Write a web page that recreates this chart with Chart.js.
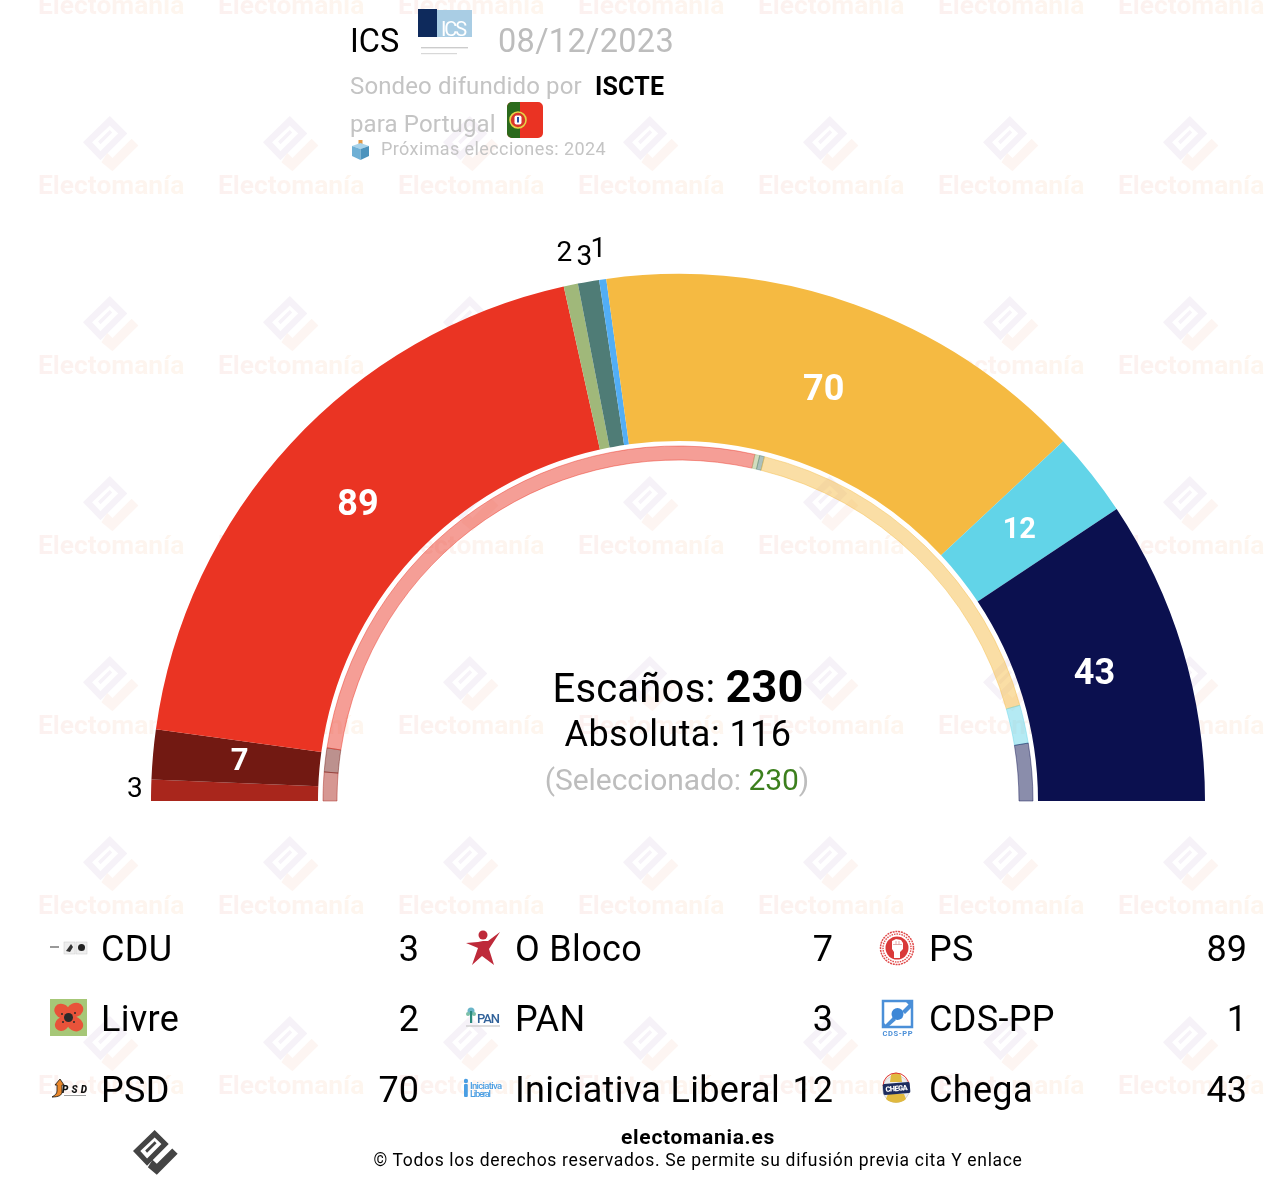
<!DOCTYPE html>
<html lang="es">
<head>
<meta charset="utf-8">
<title>ICS sondeo</title>
<script src="https://cdn.jsdelivr.net/npm/chart.js@4"></script>
<style>
html,body{margin:0;padding:0;background:#fff}
#page{position:relative;width:1280px;height:1192px;overflow:hidden;font-family:Roboto,sans-serif;color:#000}
#wm,#chartbox,#txt{position:absolute;left:0;top:0;width:1280px;height:1192px}
#wm{z-index:0}#chartbox{z-index:1}#txt{z-index:2}
.wt{position:absolute;font:700 26.4px Roboto,sans-serif;width:150px;line-height:28px;white-space:nowrap;
 background:linear-gradient(90deg,#fcf1f0,#fef6ee);-webkit-background-clip:text;background-clip:text;color:transparent}
.wi{position:absolute;width:57px;height:57px}
.t{position:absolute;white-space:nowrap;line-height:1}
.c{transform:translateX(-50%);text-align:center}
.r{transform:translateX(-100%);text-align:right}
.ic{position:absolute;width:38px;height:38px}
</style>
</head>
<body>
<div id="page">
  <div id="wm"></div>
  <div id="chartbox"><canvas id="c" width="1280" height="1192"></canvas></div>
  <div id="txt">
    <div class="t" style="left:350px;top:25px;font-size:32.5px">ICS</div>
    <svg class="ic" style="left:418px;top:9px;width:54px;height:48px" viewBox="0 0 54 48">
      <rect x="0" y="0" width="19" height="28" fill="#0e2a5c"/><rect x="19" y="1" width="35" height="27" fill="#a9cde4"/>
      <text x="36" y="27" font-family="Roboto" font-size="20" fill="#fff" text-anchor="middle" textLength="26">ICS</text>
      <rect x="3" y="38" width="47" height="1.4" fill="#ccc"/><rect x="3" y="44" width="36" height="1.2" fill="#d8d8d8"/>
    </svg>
    <div class="t" style="left:498px;top:25px;font-size:32.5px;letter-spacing:.3px;color:#bdbdbd">08/12/2023</div>
    <div class="t" style="left:350px;top:74px;font-size:24px;letter-spacing:.13px;color:#c4c4c4">Sondeo difundido por</div>
    <div class="t" style="left:595px;top:74px;font-size:25px;letter-spacing:.2px;font-weight:700">ISCTE</div>
    <div class="t" style="left:350px;top:112px;font-size:24px;letter-spacing:.13px;color:#c4c4c4">para Portugal</div>
    <svg class="ic" style="left:507px;top:102px;width:36px;height:36px" viewBox="0 0 36 36">
      <defs><clipPath id="fl"><rect width="36" height="36" rx="5"/></clipPath></defs>
      <g clip-path="url(#fl)"><rect width="36" height="36" fill="#ea3323"/><rect width="13" height="36" fill="#2b6a1c"/></g>
      <circle cx="11" cy="18" r="8" fill="#d9352a" stroke="#e6d447" stroke-width="1.6"/><rect x="7.500" y="13.500" width="7" height="9" rx="2" fill="#fff"/><rect x="10" y="15" width="2" height="5.500" fill="#2a4fa0"/>
    </svg>
    <svg class="ic" style="left:351px;top:140px;width:19px;height:20px" viewBox="0 0 19 20">
      <rect x="7.5" y="0" width="4" height="7" fill="#e39a46"/>
      <path d="M1 6 9.5 3 18 6 9.5 9Z" fill="#a8d3ea"/><path d="M1 6 9.5 9V20L1 16Z" fill="#6fb0d5"/><path d="M18 6 9.5 9V20L18 16Z" fill="#4c93bd"/>
    </svg>
    <div class="t" style="left:381px;top:140px;font-size:18px;letter-spacing:.4px;color:#c4c4c4">Próximas elecciones: 2024</div>

    <div class="t c" style="left:678px;top:664px;font-size:40px;letter-spacing:.2px">Escaños: <b style="font-size:45px">230</b></div>
    <div class="t c" style="left:678px;top:716px;font-size:36px;letter-spacing:.45px">Absoluta: 116</div>
    <div class="t c" style="left:677px;top:765px;font-size:30px;letter-spacing:-.07px;color:#bdbdbd">(Seleccionado: <span style="color:#3c7f1d">230</span>)</div>

    <div id="legend"></div>

    <svg class="ic" style="left:133px;top:1130px;width:46px;height:46px" viewBox="160 20 170 170"><use href="#logo" fill="#444" style="color:#444"/></svg>
    <div class="t c" style="left:698px;top:1127px;font-size:21px;letter-spacing:.7px;font-weight:700">electomania.es</div>
    <div class="t c" style="left:698px;top:1152px;font-size:17.5px;letter-spacing:.67px">© Todos los derechos reservados. Se permite su difusión previa cita Y enlace</div>
  </div>
  <svg width="0" height="0" style="position:absolute"><defs>
    <g id="logo">
      <path fill-rule="evenodd" d="M240 20 292 72 212 152 160 98ZM240 48 187 98 212 125 265 72Z"/>
      <path d="M205 96 240 62 247 69 212 104Z"/>
      <path style="fill:var(--chk,currentColor)" d="M215 158 232 130 248 145 305 88 325 108 248 185Z"/>
    </g>
  </defs></svg>
</div>
<script>
const partyNames   = ['CDU','O Bloco','PS','Livre','PAN','CDS-PP','PSD','Iniciativa Liberal','Chega'];
const seats        = [3,7,89,2,3,1,70,12,43];
const previousSeats= [6,5,120,1,1,0,77,8,12];
const partyColors  = ['#A9261C','#721912','#EA3423','#A0B87A','#4F7C76','#52AEF5','#F5BA42','#62D4E8','#0B104F'];
const totalSeats   = [230];

const icons = {
 'CDU':'<rect x="0" y="17" width="9" height="2" fill="#999"/><rect x="14" y="13" width="11" height="12" fill="#eee" stroke="#ccc" stroke-width=".5"/><path d="M16 22 21 15 23 18 20 23Z" fill="#333"/><rect x="26" y="13" width="11" height="12" fill="#eee" stroke="#ccc" stroke-width=".5"/><circle cx="31.500" cy="18.500" r="3.500" fill="#222"/>',
 'Livre':'<rect y="0" width="37" height="37" fill="#a6c777"/><g fill="#e8533a"><ellipse cx="12" cy="12" rx="8" ry="7" transform="rotate(35 12 12)"/><ellipse cx="25" cy="11" rx="8.500" ry="7" transform="rotate(-25 25 11)"/><ellipse cx="12" cy="25" rx="7.500" ry="6.500" transform="rotate(-40 12 25)"/><ellipse cx="25" cy="25" rx="8.500" ry="7" transform="rotate(30 25 25)"/><circle cx="18.500" cy="18.500" r="7"/></g><circle cx="18.500" cy="18.500" r="4.500" fill="#2a2a2a"/><g fill="#2a2a2a"><circle cx="12" cy="15" r="1"/><circle cx="25" cy="14" r="1"/><circle cx="13" cy="23" r="1"/><circle cx="24" cy="23" r="1"/></g>',
 'PSD':'<path d="M5 15 10 9 14 15H12V22C12 25 9 27 2 27 5 25 7 24 7 21V15Z" fill="#e8862a" stroke="#111" stroke-width=".8"/><text x="12" y="23" font-family="Roboto" font-weight="900" font-style="italic" font-size="10" fill="#111" textLength="25">PSD</text><rect x="14" y="25" width="22" height=".8" fill="#888"/>',
 'O Bloco':'<circle cx="19" cy="6" r="4.500" fill="#be2a3a"/><path d="M2 14 14 13 19 12 24 12 36 3 25 20 30 36 18 27 8 36 14 19Z" fill="#be2a3a"/>',
 'PAN':'<circle cx="7" cy="12" r="3.500" fill="#6ab5c8"/><circle cx="4" cy="15" r="2" fill="#7cc0a8"/><circle cx="10" cy="15" r="2" fill="#7cc0a8"/><rect x="6" y="12" width="2.200" height="12" fill="#2a8a7e"/><text x="13" y="24" font-family="Roboto" font-size="13" font-weight="500" fill="#30629a" textLength="23">PAN</text><rect x="2" y="26.500" width="34" height="1" fill="#bbb"/>',
 'Iniciativa Liberal':'<rect x="0" y="14" width="3.800" height="13" rx="1" fill="#4a9ee3"/><circle cx="1.900" cy="11" r="2.200" fill="#4a9ee3"/><text x="6" y="19" font-family="Roboto" font-weight="500" font-size="9.500" fill="#4a9ee3" textLength="32">Iniciativa</text><text x="6" y="27" font-family="Roboto" font-weight="500" font-size="9.500" fill="#4a9ee3" textLength="21">Liberal</text>',
 'PS':'<circle cx="19" cy="19" r="16.500" fill="#fff" stroke="#e04a4a" stroke-width="1.500" stroke-dasharray="2 .8"/><circle cx="19" cy="19" r="14" fill="none" stroke="#e04a4a" stroke-width="1.400" stroke-dasharray="1.500 1"/><circle cx="19" cy="19" r="11.500" fill="#d93a3a"/><path d="M14 12 18 10 23 11 25 14V20L22 23V29H16V23L14 20Z" fill="#fff"/><path d="M15 15.500H24M18 12V15.500M21 12V15.500" stroke="#d98a8a" stroke-width=".7" fill="none"/>',
 'CDS-PP':'<rect x="5" y="2" width="29" height="26" fill="#fff" stroke="#4a8fd8" stroke-width="2.500"/><path d="M6 27 15 18 18 21 9 29ZM33 3 24 12 27 15 33 9Z" fill="#4a8fd8"/><path d="M6 29V24L11 29ZM33 3H28L33 8Z" fill="#4a8fd8"/><circle cx="19.500" cy="15" r="6" fill="#3d87d6"/><text x="19.500" y="37" font-family="Roboto" font-weight="700" font-size="7.500" fill="#4a8fd8" text-anchor="middle" textLength="30">CDS-PP</text>',
 'Chega':'<circle cx="18" cy="19" r="13.500" fill="#eee" stroke="#ccc" stroke-width=".8"/><path d="M13 5C15 2 21 2 23 5L24 12H12Z" fill="#e0b93f"/><path d="M8 29C13 34 23 34 28 29L26 24H10Z" fill="#e0b93f"/><path d="M5 16A13 13 0 0 1 31 16" fill="none" stroke="#d33" stroke-width="1"/><rect x="5" y="13" width="27" height="11" rx="1.500" fill="#1d2c5e" transform="rotate(-5 18 18)"/><text x="18.500" y="21" font-family="Roboto" font-weight="900" font-size="7.500" fill="#fff" text-anchor="middle" textLength="22" transform="rotate(-5 18 18)">CHEGA</text>'
};

/* watermark tiles */
const wm = document.getElementById('wm');
let wmHtml = '';
for (let j = 0; j < 7; j++) for (let i = 0; i < 8; i++) {
  const x = 38 + 180*i, y = 5 + 180*j;
  wmHtml += `<svg class="wi" style="left:${x+45}px;top:${y-69}px;color:#f6f2f8;--chk:#fdf5f2" viewBox="160 20 170 170"><use href="#logo" fill="#f6f2f8"/></svg>`;
  wmHtml += `<div class="wt" style="left:${x}px;top:${y-14}px">Electomanía</div>`;
}
wm.innerHTML = wmHtml;

/* legend table */
const legendOrder = [0,3,6, 1,4,7, 2,5,8];
const colX = [[50,102,419],[464,516,833],[878,930,1247]];
const rowY = [948,1018,1089];
let lg = '';
legendOrder.forEach((p,k)=>{
  const col = Math.floor(k/3), row = k%3, cx = colX[col], cy = rowY[row];
  lg += `<svg class="ic" style="left:${cx[0]}px;top:${cy-19}px" viewBox="0 0 38 38">${icons[partyNames[p]]}</svg>`;
  lg += `<div class="t" style="left:${cx[1]-1}px;top:${cy-17}px;font-size:36px;letter-spacing:.33px">${partyNames[p]}</div>`;
  lg += `<div class="t r" style="left:${cx[2]}px;top:${cy-17}px;font-size:36px">${seats[p]}</div>`;
});
document.getElementById('legend').innerHTML = lg;

function alpha(hex,a){const n=parseInt(hex.slice(1),16);return `rgba(${n>>16},${(n>>8)&255},${n&255},${a})`;}

const labelPlugin = {
  id:'seatLabels',
  afterDatasetsDraw(chart){
    const ctx = chart.ctx, meta = chart.getDatasetMeta(0);
    ctx.save(); ctx.textAlign='center'; ctx.textBaseline='middle';
    meta.data.forEach((arc,i)=>{
      const p = arc.getProps(['x','y','startAngle','endAngle','innerRadius','outerRadius'],true);
      const mid = (p.startAngle+p.endAngle)/2, v = seats[i];
      if (v >= 5) {
        const r = p.innerRadius + (p.outerRadius-p.innerRadius)*(v<10?0.48:0.45);
        ctx.fillStyle='#fff';
        ctx.font = `700 ${v>=40?36:v>=10?29:31}px Roboto, sans-serif`;
        ctx.fillText(String(v), p.x+Math.cos(mid)*r, p.y+Math.sin(mid)*r);
      } else {
        /* the middle one of the three crowded labels sits a little closer to the arc */
        const crowded = partyNames[i]==='PAN' ? -6 : partyNames[i]==='Livre' ? 2 : 0;
        const r = p.outerRadius + 16 + 14*Math.abs(Math.sin(mid)) + crowded;
        ctx.fillStyle='#000';
        ctx.font = '28px Roboto, sans-serif';
        ctx.fillText(String(v), p.x+Math.cos(mid)*r, p.y+Math.sin(mid)*r);
      }
    });
    ctx.restore();
  }
};

new Chart(document.getElementById('c'),{
  type:'doughnut',
  plugins:[labelPlugin],
  data:{
    labels:partyNames,
    datasets:[
      {data:seats, backgroundColor:partyColors, borderWidth:0, weight:167},
      {data:totalSeats, backgroundColor:'rgba(0,0,0,0)', borderWidth:0, weight:5},
      {data:previousSeats, backgroundColor:partyColors.map(c=>alpha(c,.48)), borderColor:partyColors.map(c=>alpha(c,.45)), borderWidth:1, weight:14}
    ]
  },
  options:{
    responsive:false, animation:false, events:[],
    rotation:-90, circumference:180,
    radius:527, cutout:(341/527*100)+'%',
    layout:{padding:{left:151,right:75,top:274,bottom:391}},
    plugins:{legend:{display:false},tooltip:{enabled:false},title:{display:false}}
  }
});
</script>
</body>
</html>
